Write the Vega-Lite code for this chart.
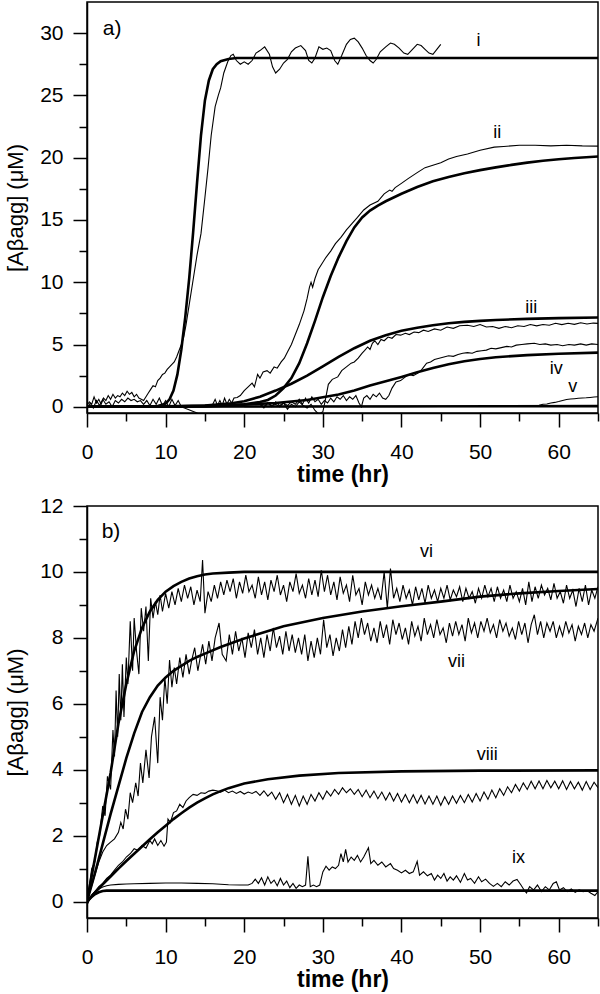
{
"$schema": "https://vega.github.io/schema/vega-lite/v6.json",
"padding": {"left": 3, "top": 1, "right": 3, "bottom": 0},
"spacing": 7,
"config": {
  "font": "Liberation Sans",
  "view": {"stroke": "black", "strokeWidth": 1.5},
  "axis": {"grid": false, "domainColor": "black", "domainWidth": 1.5, "tickColor": "black", "tickWidth": 1.5, "labelFontSize": 21, "labelColor": "black", "titleColor": "black", "labelFont": "Liberation Sans", "titleFont": "Liberation Sans", "labelOverlap": false, "labelFlush": false}
},
"datasets": {
  "a_i_fit": [{"t":0,"v":0},{"t":5,"v":0},{"t":8,"v":0.02},{"t":9,"v":0.06},{"t":10,"v":0.25},{"t":10.5,"v":0.6},{"t":11,"v":1.3},{"t":11.5,"v":2.6},{"t":12,"v":4.6},{"t":12.5,"v":7.2},{"t":13,"v":10.3},{"t":13.5,"v":14},{"t":14,"v":18},{"t":14.5,"v":21.8},{"t":15,"v":24.6},{"t":15.5,"v":26.2},{"t":16,"v":27.1},{"t":16.5,"v":27.5},{"t":17,"v":27.75},{"t":18,"v":27.92},{"t":19,"v":28},{"t":65,"v":28}],
  "a_i_data": [{"t":0,"v":0.1},{"t":0.3,"v":0.4},{"t":0.6,"v":0.2},{"t":0.9,"v":0.8},{"t":1.2,"v":0.3},{"t":1.5,"v":0.6},{"t":1.8,"v":0.2},{"t":2.1,"v":0.7},{"t":2.4,"v":0.5},{"t":2.7,"v":0.9},{"t":3,"v":0.6},{"t":3.3,"v":1},{"t":3.6,"v":0.7},{"t":3.9,"v":0.9},{"t":4.2,"v":0.8},{"t":4.5,"v":1.1},{"t":4.8,"v":0.9},{"t":5.1,"v":1.25},{"t":5.4,"v":1},{"t":5.7,"v":1.15},{"t":6,"v":0.8},{"t":6.3,"v":1},{"t":6.6,"v":0.7},{"t":6.9,"v":0.6},{"t":7.2,"v":0.5},{"t":7.5,"v":0.8},{"t":7.8,"v":1.1},{"t":8.1,"v":1.4},{"t":8.4,"v":1.7},{"t":8.7,"v":1.6},{"t":9,"v":2.1},{"t":9.3,"v":2.3},{"t":9.6,"v":2.6},{"t":9.9,"v":2.7},{"t":10.2,"v":3},{"t":10.5,"v":3.2},{"t":10.8,"v":3.4},{"t":11.1,"v":3.6},{"t":11.4,"v":4},{"t":11.7,"v":4.5},{"t":12,"v":5},{"t":12.3,"v":5.6},{"t":12.6,"v":6.6},{"t":13,"v":8.2},{"t":13.5,"v":10.2},{"t":14,"v":12.2},{"t":14.5,"v":13.9},{"t":15,"v":16.8},{"t":15.4,"v":19.2},{"t":15.8,"v":21.8},{"t":16.3,"v":24.1},{"t":16.7,"v":25},{"t":17,"v":25.6},{"t":17.4,"v":26.8},{"t":17.9,"v":27.7},{"t":18.3,"v":28.2},{"t":18.6,"v":28.3},{"t":19,"v":27.8},{"t":19.5,"v":27.5},{"t":20,"v":27.7},{"t":20.5,"v":27.5},{"t":21,"v":27.8},{"t":21.5,"v":28.4},{"t":22,"v":28.6},{"t":22.6,"v":28.9},{"t":23.2,"v":28.3},{"t":23.6,"v":27.3},{"t":24,"v":26.8},{"t":24.5,"v":27.1},{"t":25,"v":27.6},{"t":25.5,"v":27.9},{"t":26,"v":28.5},{"t":26.5,"v":28.8},{"t":27.2,"v":29},{"t":27.8,"v":28.6},{"t":28.2,"v":27.8},{"t":28.6,"v":27.6},{"t":29,"v":28},{"t":29.5,"v":28.9},{"t":30,"v":28.7},{"t":30.5,"v":28.8},{"t":31,"v":28.6},{"t":31.5,"v":27.8},{"t":31.9,"v":27.5},{"t":32.4,"v":28.2},{"t":33,"v":29.1},{"t":33.5,"v":29.5},{"t":34,"v":29.6},{"t":34.5,"v":29.3},{"t":35,"v":28.8},{"t":35.5,"v":28.2},{"t":36,"v":27.8},{"t":36.4,"v":27.6},{"t":36.8,"v":27.9},{"t":37.3,"v":28.5},{"t":38,"v":28.9},{"t":38.6,"v":29.2},{"t":39.1,"v":29.1},{"t":39.7,"v":28.8},{"t":40.3,"v":28.4},{"t":40.8,"v":28.3},{"t":41.4,"v":28.7},{"t":42,"v":29.1},{"t":42.5,"v":29},{"t":43,"v":28.7},{"t":43.5,"v":28.4},{"t":44,"v":28.3},{"t":44.5,"v":28.7},{"t":45,"v":29.1}],
  "a_base": [{"t":0,"v":-0.2},{"t":0.4,"v":0.3},{"t":0.8,"v":-0.1},{"t":1.2,"v":0.5},{"t":1.6,"v":0.1},{"t":2,"v":0.6},{"t":2.4,"v":0.2},{"t":2.8,"v":0.4},{"t":3.2,"v":0},{"t":3.6,"v":0.5},{"t":4,"v":0.3},{"t":4.4,"v":0.6},{"t":4.8,"v":0.4},{"t":5.2,"v":0.7},{"t":5.6,"v":0.5},{"t":6,"v":0.6},{"t":6.4,"v":0.4},{"t":6.8,"v":0.5},{"t":7.2,"v":0.2},{"t":7.6,"v":0.5},{"t":8,"v":0.1},{"t":8.4,"v":0.6},{"t":8.8,"v":0.2},{"t":9.2,"v":0.7},{"t":9.6,"v":0.1},{"t":10,"v":0.5},{"t":10.4,"v":0},{"t":10.8,"v":0.6},{"t":11.2,"v":0.1},{"t":11.6,"v":0.5},{"t":12,"v":0},{"t":12.4,"v":-0.1},{"t":12.8,"v":-0.2},{"t":13.2,"v":-0.3},{"t":13.6,"v":-0.4},{"t":14,"v":-0.5},{"t":14.4,"v":-0.7},{"t":15,"v":-1}],
  "a_ii_fit": [{"t":0,"v":0},{"t":10,"v":0.01},{"t":15,"v":0.03},{"t":18,"v":0.1},{"t":20,"v":0.2},{"t":22,"v":0.38},{"t":23,"v":0.55},{"t":24,"v":0.9},{"t":25,"v":1.5},{"t":26,"v":2.3},{"t":27,"v":3.5},{"t":28,"v":5.1},{"t":29,"v":6.9},{"t":30,"v":8.8},{"t":31,"v":10.5},{"t":32,"v":12},{"t":33,"v":13.3},{"t":34,"v":14.4},{"t":35,"v":15.2},{"t":36,"v":15.75},{"t":37,"v":16.15},{"t":38,"v":16.5},{"t":40,"v":17.1},{"t":42,"v":17.65},{"t":44,"v":18.1},{"t":46,"v":18.45},{"t":48,"v":18.75},{"t":50,"v":19},{"t":52,"v":19.22},{"t":54,"v":19.42},{"t":56,"v":19.6},{"t":58,"v":19.75},{"t":60,"v":19.87},{"t":62,"v":19.98},{"t":65,"v":20.1}],
  "a_ii_data": [{"t":16,"v":0.2},{"t":16.3,"v":0.6},{"t":16.6,"v":0.1},{"t":16.9,"v":0.5},{"t":17.2,"v":0.1},{"t":17.5,"v":0.7},{"t":17.8,"v":0.2},{"t":18.1,"v":0.6},{"t":18.4,"v":0.3},{"t":18.7,"v":0.7},{"t":19.1,"v":0.75},{"t":19.5,"v":0.9},{"t":20,"v":1.3},{"t":20.5,"v":1.6},{"t":21,"v":1.9},{"t":21.3,"v":1.6},{"t":21.7,"v":2.6},{"t":22,"v":2.3},{"t":22.4,"v":2.8},{"t":22.9,"v":2.9},{"t":23.3,"v":2.7},{"t":23.8,"v":3.2},{"t":24.2,"v":3.1},{"t":24.7,"v":3.6},{"t":25.1,"v":3.9},{"t":25.5,"v":4.4},{"t":26,"v":5},{"t":26.5,"v":5.8},{"t":27,"v":6.6},{"t":27.6,"v":7.7},{"t":28,"v":8.7},{"t":28.3,"v":9.6},{"t":28.5,"v":10},{"t":28.7,"v":9.6},{"t":29,"v":10.3},{"t":29.4,"v":11},{"t":29.8,"v":11.4},{"t":30.4,"v":12},{"t":31,"v":12.5},{"t":31.6,"v":13.1},{"t":32.3,"v":13.6},{"t":33,"v":14.2},{"t":33.7,"v":14.7},{"t":34.4,"v":15.2},{"t":35.2,"v":15.8},{"t":36,"v":16.2},{"t":37,"v":16.5},{"t":37.8,"v":17.1},{"t":38.5,"v":17.4},{"t":38.8,"v":17.3},{"t":39.2,"v":17.6},{"t":39.9,"v":17.9},{"t":40.8,"v":18.3},{"t":42,"v":18.8},{"t":43,"v":19.2},{"t":44,"v":19.4},{"t":45,"v":19.6},{"t":46,"v":19.9},{"t":47,"v":20.1},{"t":48.4,"v":20.3},{"t":50,"v":20.6},{"t":51.8,"v":20.85},{"t":53,"v":20.9},{"t":55,"v":21},{"t":57,"v":21},{"t":59,"v":20.95},{"t":61,"v":21},{"t":63,"v":20.95},{"t":65,"v":20.93}],
  "a_iii_fit": [{"t":0,"v":0},{"t":10,"v":0.03},{"t":15,"v":0.1},{"t":18,"v":0.25},{"t":20,"v":0.45},{"t":22,"v":0.8},{"t":24,"v":1.3},{"t":26,"v":1.85},{"t":28,"v":2.5},{"t":30,"v":3.25},{"t":32,"v":4},{"t":34,"v":4.7},{"t":36,"v":5.3},{"t":38,"v":5.75},{"t":40,"v":6.1},{"t":42,"v":6.35},{"t":44,"v":6.55},{"t":46,"v":6.7},{"t":48,"v":6.82},{"t":50,"v":6.9},{"t":52,"v":6.97},{"t":56,"v":7.06},{"t":60,"v":7.12},{"t":65,"v":7.17}],
  "a_iii_data": [{"t":22,"v":0.2},{"t":22.5,"v":-0.1},{"t":23,"v":0.3},{"t":23.5,"v":0},{"t":24,"v":0.4},{"t":24.5,"v":0.1},{"t":25,"v":0.3},{"t":25.5,"v":-0.2},{"t":26,"v":0.2},{"t":26.5,"v":0},{"t":27,"v":0.4},{"t":27.5,"v":0.1},{"t":28,"v":-0.1},{"t":28.5,"v":0.2},{"t":29,"v":-0.3},{"t":29.5,"v":-0.6},{"t":30,"v":-0.4},{"t":30.3,"v":0.5},{"t":30.7,"v":1.8},{"t":31.2,"v":2.2},{"t":31.9,"v":2.4},{"t":32.4,"v":2.9},{"t":33,"v":3.2},{"t":33.6,"v":3.5},{"t":34,"v":3.6},{"t":34.5,"v":3.9},{"t":35,"v":4.3},{"t":35.3,"v":4.5},{"t":35.7,"v":4.8},{"t":36,"v":4.6},{"t":36.3,"v":5.1},{"t":36.6,"v":5.3},{"t":37,"v":5},{"t":37.4,"v":5.4},{"t":37.8,"v":5.3},{"t":38.3,"v":5.6},{"t":38.8,"v":5.5},{"t":39.3,"v":5.8},{"t":39.9,"v":5.75},{"t":40.5,"v":5.9},{"t":41,"v":5.8},{"t":41.6,"v":6},{"t":42.2,"v":5.95},{"t":42.8,"v":6.15},{"t":43.4,"v":6.05},{"t":44.2,"v":6.25},{"t":45,"v":6.15},{"t":45.8,"v":6.4},{"t":46.6,"v":6.3},{"t":47.4,"v":6.5},{"t":48.4,"v":6.55},{"t":49.2,"v":6.45},{"t":50,"v":6.6},{"t":50.8,"v":6.4},{"t":51.6,"v":6.45},{"t":52.4,"v":6.3},{"t":53.2,"v":6.45},{"t":54,"v":6.35},{"t":54.8,"v":6.5},{"t":55.6,"v":6.45},{"t":56.4,"v":6.6},{"t":57.2,"v":6.5},{"t":58,"v":6.6},{"t":58.8,"v":6.55},{"t":59.6,"v":6.7},{"t":60.4,"v":6.6},{"t":61.2,"v":6.7},{"t":62,"v":6.62},{"t":62.8,"v":6.75},{"t":63.6,"v":6.65},{"t":64.4,"v":6.72},{"t":65,"v":6.7}],
  "a_iv_fit": [{"t":0,"v":0},{"t":10,"v":0.02},{"t":15,"v":0.07},{"t":20,"v":0.17},{"t":24,"v":0.3},{"t":28,"v":0.55},{"t":32,"v":0.98},{"t":34,"v":1.3},{"t":36,"v":1.7},{"t":38,"v":2.05},{"t":40,"v":2.4},{"t":42,"v":2.78},{"t":44,"v":3.12},{"t":46,"v":3.42},{"t":48,"v":3.66},{"t":50,"v":3.84},{"t":52,"v":3.98},{"t":56,"v":4.15},{"t":60,"v":4.26},{"t":65,"v":4.35}],
  "a_iv_data": [{"t":22,"v":0.2},{"t":22.5,"v":0},{"t":23,"v":0.3},{"t":23.5,"v":0.1},{"t":24,"v":0.2},{"t":24.5,"v":0},{"t":25,"v":0.3},{"t":25.5,"v":0.1},{"t":26,"v":0.4},{"t":26.5,"v":0.2},{"t":27,"v":0.6},{"t":27.4,"v":0.2},{"t":27.8,"v":0.7},{"t":28.2,"v":0.3},{"t":28.6,"v":0.8},{"t":29,"v":0.4},{"t":29.4,"v":0.6},{"t":29.8,"v":0.2},{"t":30.2,"v":0.5},{"t":30.6,"v":0.3},{"t":31,"v":0.7},{"t":31.4,"v":0.4},{"t":31.8,"v":0.8},{"t":32.2,"v":0.6},{"t":32.6,"v":0.9},{"t":33,"v":0.5},{"t":33.4,"v":0.8},{"t":33.8,"v":0.6},{"t":34.2,"v":0.9},{"t":34.6,"v":0.3},{"t":34.9,"v":0},{"t":35.2,"v":0.7},{"t":35.6,"v":0.9},{"t":36,"v":0.6},{"t":36.4,"v":1},{"t":36.8,"v":0.8},{"t":37.2,"v":1.1},{"t":37.6,"v":0.7},{"t":38,"v":0.6},{"t":38.4,"v":0.9},{"t":38.8,"v":1.5},{"t":39.3,"v":2},{"t":39.9,"v":2.1},{"t":40.5,"v":2.4},{"t":41,"v":2.6},{"t":41.5,"v":2.5},{"t":42.1,"v":2.7},{"t":42.6,"v":3},{"t":43.2,"v":3.5},{"t":43.7,"v":3.6},{"t":44.2,"v":3.8},{"t":44.8,"v":3.9},{"t":45.4,"v":4},{"t":46,"v":4.1},{"t":46.6,"v":4.05},{"t":47.2,"v":4.2},{"t":47.8,"v":4.3},{"t":48.4,"v":4.35},{"t":49,"v":4.3},{"t":49.6,"v":4.45},{"t":50.2,"v":4.5},{"t":50.8,"v":4.55},{"t":51.4,"v":4.7},{"t":52,"v":4.65},{"t":52.7,"v":4.75},{"t":53.4,"v":4.85},{"t":54,"v":4.8},{"t":54.6,"v":4.95},{"t":55.3,"v":5},{"t":56,"v":5.05},{"t":56.9,"v":5.1},{"t":57.6,"v":5},{"t":58.3,"v":5.05},{"t":59,"v":4.95},{"t":59.8,"v":5},{"t":60.5,"v":4.9},{"t":61.3,"v":5},{"t":62,"v":4.95},{"t":62.8,"v":5.05},{"t":63.5,"v":4.95},{"t":64.2,"v":5.05},{"t":65,"v":5}],
  "a_v_fit": [{"t":0,"v":0},{"t":65,"v":0.05}],
  "a_v_data": [{"t":20,"v":0},{"t":30,"v":0},{"t":40,"v":0},{"t":45,"v":0.02},{"t":50,"v":0.03},{"t":55,"v":0.05},{"t":56.9,"v":0.08},{"t":57.5,"v":0.12},{"t":58,"v":0.2},{"t":58.5,"v":0.22},{"t":59,"v":0.3},{"t":59.5,"v":0.35},{"t":60,"v":0.42},{"t":60.5,"v":0.5},{"t":61,"v":0.58},{"t":61.5,"v":0.62},{"t":62,"v":0.65},{"t":62.5,"v":0.68},{"t":63,"v":0.7},{"t":63.5,"v":0.72},{"t":64,"v":0.75},{"t":64.5,"v":0.78},{"t":65,"v":0.8}],
  "a_labels": [{"t":49.8,"v":29.35,"txt":"i"},{"t":52.2,"v":22,"txt":"ii"},{"t":56.5,"v":7.95,"txt":"iii"},{"t":59.7,"v":3,"txt":"iv"},{"t":61.8,"v":1.55,"txt":"v"}],
  "a_tag": [{"t":3.2,"v":30.3,"txt":"a)"}],
  "b_vi_fit": [{"t":0,"v":0},{"t":1,"v":1.3},{"t":2,"v":2.6},{"t":3,"v":3.9},{"t":4,"v":5.4},{"t":5,"v":6.6},{"t":6,"v":7.6},{"t":7,"v":8.3},{"t":8,"v":8.8},{"t":9,"v":9.15},{"t":10,"v":9.4},{"t":11,"v":9.57},{"t":12,"v":9.7},{"t":13,"v":9.8},{"t":14,"v":9.87},{"t":15,"v":9.92},{"t":16,"v":9.95},{"t":18,"v":9.98},{"t":20,"v":10},{"t":65,"v":10}],
  "b_vii_fit": [{"t":0,"v":0},{"t":1,"v":0.85},{"t":2,"v":1.75},{"t":3,"v":2.65},{"t":4,"v":3.5},{"t":5,"v":4.35},{"t":6,"v":5.1},{"t":7,"v":5.75},{"t":8,"v":6.2},{"t":9,"v":6.55},{"t":10,"v":6.8},{"t":11,"v":7},{"t":12,"v":7.15},{"t":13,"v":7.3},{"t":14,"v":7.42},{"t":15,"v":7.52},{"t":17,"v":7.72},{"t":20,"v":7.98},{"t":25,"v":8.35},{"t":30,"v":8.6},{"t":35,"v":8.8},{"t":40,"v":8.96},{"t":45,"v":9.1},{"t":50,"v":9.25},{"t":55,"v":9.35},{"t":60,"v":9.42},{"t":65,"v":9.48}],
  "b_viii_fit": [{"t":0,"v":0},{"t":1,"v":0.27},{"t":2,"v":0.52},{"t":3,"v":0.76},{"t":4,"v":1},{"t":5,"v":1.23},{"t":6,"v":1.45},{"t":7,"v":1.67},{"t":8,"v":1.89},{"t":9,"v":2.1},{"t":10,"v":2.3},{"t":11,"v":2.5},{"t":12,"v":2.68},{"t":13,"v":2.85},{"t":14,"v":3},{"t":15,"v":3.13},{"t":16,"v":3.25},{"t":17,"v":3.35},{"t":18,"v":3.44},{"t":20,"v":3.58},{"t":23,"v":3.71},{"t":27,"v":3.82},{"t":32,"v":3.9},{"t":40,"v":3.95},{"t":50,"v":3.97},{"t":65,"v":3.98}],
  "b_ix_fit": [{"t":0,"v":0},{"t":0.5,"v":0.12},{"t":1,"v":0.22},{"t":1.5,"v":0.28},{"t":2,"v":0.32},{"t":2.5,"v":0.33},{"t":65,"v":0.33}],
  "b_vi_data": [{"t":0,"v":0},{"t":0.3,"v":0.5},{"t":0.6,"v":1},{"t":1,"v":1.2},{"t":1.3,"v":1.8},{"t":1.6,"v":2},{"t":2,"v":2.9},{"t":2.3,"v":2.6},{"t":2.6,"v":3.8},{"t":3,"v":3.4},{"t":3.3,"v":5.2},{"t":3.5,"v":4.4},{"t":3.7,"v":6.4},{"t":3.9,"v":5},{"t":4.1,"v":6.9},{"t":4.3,"v":5.5},{"t":4.5,"v":7.2},{"t":4.7,"v":5.6},{"t":5,"v":7.4},{"t":5.2,"v":6.6},{"t":5.5,"v":8.5},{"t":5.8,"v":7},{"t":6,"v":8.6},{"t":6.3,"v":7.6},{"t":6.6,"v":6.9},{"t":6.9,"v":8.9},{"t":7.2,"v":8.2},{"t":7.5,"v":8.95},{"t":7.8,"v":7.3},{"t":8.1,"v":9.2},{"t":8.4,"v":8.6},{"t":8.7,"v":9.1},{"t":9,"v":8.7},{"t":9.3,"v":9.3},{"t":9.6,"v":8.8},{"t":10,"v":9.35},{"t":10.4,"v":8.9},{"t":10.8,"v":9.4},{"t":11.2,"v":9},{"t":11.6,"v":9.5},{"t":12,"v":9.1},{"t":12.4,"v":9.6},{"t":12.8,"v":9.2},{"t":13.2,"v":9.55},{"t":13.6,"v":9},{"t":14,"v":9.45},{"t":14.4,"v":9.1},{"t":14.7,"v":10.36},{"t":15,"v":8.75},{"t":15.4,"v":9.4},{"t":15.8,"v":9.1},{"t":16.2,"v":9.6},{"t":16.6,"v":9.2},{"t":17,"v":9.7},{"t":17.4,"v":9.3},{"t":17.8,"v":9.75},{"t":18.2,"v":9.4},{"t":18.6,"v":9.8},{"t":19,"v":9.2},{"t":19.4,"v":9.7},{"t":19.8,"v":9.35},{"t":20.2,"v":9.9},{"t":20.6,"v":9.4},{"t":21,"v":9.6},{"t":21.4,"v":9.2},{"t":21.8,"v":9.85},{"t":22.2,"v":9.3},{"t":22.6,"v":9.7},{"t":23,"v":9.15},{"t":23.4,"v":9.75},{"t":23.8,"v":9.4},{"t":24.2,"v":9.9},{"t":24.6,"v":9.3},{"t":25,"v":9.6},{"t":25.4,"v":9.1},{"t":25.8,"v":9.7},{"t":26.2,"v":9.4},{"t":26.6,"v":9.95},{"t":27,"v":9.35},{"t":27.4,"v":9.6},{"t":27.8,"v":9.2},{"t":28.2,"v":9.8},{"t":28.6,"v":9.3},{"t":29,"v":9.75},{"t":29.4,"v":9.25},{"t":29.8,"v":10.05},{"t":30.2,"v":9.4},{"t":30.6,"v":9.9},{"t":31,"v":9.3},{"t":31.4,"v":9.7},{"t":31.8,"v":9.15},{"t":32.2,"v":9.85},{"t":32.6,"v":9.35},{"t":33,"v":9.6},{"t":33.4,"v":9.1},{"t":33.8,"v":9.9},{"t":34.2,"v":9.3},{"t":34.6,"v":9.5},{"t":35,"v":9},{"t":35.4,"v":9.7},{"t":35.8,"v":9.3},{"t":36.2,"v":9.6},{"t":36.6,"v":9.2},{"t":37,"v":9.5},{"t":37.4,"v":9.15},{"t":37.8,"v":10},{"t":38.2,"v":8.9},{"t":38.6,"v":10.1},{"t":39,"v":9.2},{"t":39.4,"v":9.5},{"t":39.8,"v":9.1},{"t":40.2,"v":9.6},{"t":40.6,"v":9.2},{"t":41,"v":9.45},{"t":41.4,"v":9},{"t":41.8,"v":9.55},{"t":42.2,"v":9.15},{"t":42.6,"v":9.5},{"t":43,"v":9.05},{"t":43.4,"v":9.6},{"t":43.8,"v":9.2},{"t":44.2,"v":9.45},{"t":44.6,"v":9.1},{"t":45,"v":9.5},{"t":45.4,"v":9.2},{"t":45.8,"v":9.6},{"t":46.2,"v":9.15},{"t":46.6,"v":9.45},{"t":47,"v":9.25},{"t":47.4,"v":9.55},{"t":47.8,"v":9.1},{"t":48.2,"v":9.5},{"t":48.6,"v":9.2},{"t":49,"v":9.4},{"t":49.4,"v":9.05},{"t":49.8,"v":9.5},{"t":50.2,"v":9.2},{"t":50.6,"v":9.6},{"t":51,"v":9.25},{"t":51.4,"v":9.5},{"t":51.8,"v":9.1},{"t":52.2,"v":9.55},{"t":52.6,"v":9.2},{"t":53,"v":9.45},{"t":53.4,"v":9.1},{"t":53.8,"v":9.6},{"t":54.2,"v":9.2},{"t":54.6,"v":9.4},{"t":55,"v":9.1},{"t":55.4,"v":9.5},{"t":55.8,"v":9},{"t":56.2,"v":9.7},{"t":56.6,"v":9.1},{"t":57,"v":9.55},{"t":57.4,"v":9.2},{"t":57.8,"v":9.6},{"t":58.2,"v":9.3},{"t":58.6,"v":9.5},{"t":59,"v":9.15},{"t":59.4,"v":9.65},{"t":59.8,"v":9.2},{"t":60.2,"v":9.4},{"t":60.6,"v":9.05},{"t":61,"v":9.6},{"t":61.4,"v":9.2},{"t":61.8,"v":9.45},{"t":62.2,"v":8.95},{"t":62.6,"v":9.5},{"t":63,"v":9.1},{"t":63.4,"v":9.6},{"t":63.8,"v":9},{"t":64.2,"v":9.45},{"t":64.6,"v":9.2},{"t":65,"v":9.55}],
  "b_vii_data": [{"t":0,"v":0},{"t":0.5,"v":0.4},{"t":1,"v":0.8},{"t":1.5,"v":1.2},{"t":2,"v":1.5},{"t":2.5,"v":1.7},{"t":3,"v":1.8},{"t":3.5,"v":1.9},{"t":4,"v":2.1},{"t":4.3,"v":2.4},{"t":4.6,"v":2.2},{"t":4.9,"v":2.8},{"t":5.2,"v":2.5},{"t":5.5,"v":3.3},{"t":5.8,"v":3},{"t":6.2,"v":3.6},{"t":6.5,"v":3.2},{"t":6.8,"v":4.2},{"t":7.1,"v":3.6},{"t":7.5,"v":4.6},{"t":7.9,"v":3.75},{"t":8.2,"v":5},{"t":8.6,"v":5.6},{"t":9,"v":4.2},{"t":9.3,"v":6.2},{"t":9.6,"v":5.5},{"t":9.9,"v":6.8},{"t":10.2,"v":6},{"t":10.5,"v":7.33},{"t":10.8,"v":6.5},{"t":11.1,"v":7.1},{"t":11.4,"v":6.6},{"t":11.8,"v":7.4},{"t":12.2,"v":6.8},{"t":12.6,"v":7.5},{"t":13,"v":6.9},{"t":13.3,"v":7.3},{"t":13.7,"v":7.7},{"t":14.1,"v":7},{"t":14.7,"v":7.8},{"t":15.1,"v":7.2},{"t":15.5,"v":7.9},{"t":15.9,"v":7.3},{"t":16.3,"v":8},{"t":16.8,"v":8.45},{"t":17.2,"v":7.5},{"t":17.7,"v":7.3},{"t":18.1,"v":8.1},{"t":18.5,"v":7.5},{"t":18.9,"v":8.2},{"t":19.3,"v":7.6},{"t":19.7,"v":8},{"t":20.1,"v":7.4},{"t":20.5,"v":8.15},{"t":20.9,"v":7.7},{"t":21.3,"v":8.25},{"t":21.7,"v":7.5},{"t":22.1,"v":8},{"t":22.5,"v":7.4},{"t":22.9,"v":8.1},{"t":23.3,"v":7.6},{"t":23.7,"v":8.3},{"t":24.1,"v":7.7},{"t":24.5,"v":8.05},{"t":24.9,"v":7.5},{"t":25.3,"v":8.2},{"t":25.7,"v":7.6},{"t":26.1,"v":8.1},{"t":26.5,"v":7.55},{"t":26.9,"v":8},{"t":27.3,"v":7.5},{"t":27.7,"v":8.1},{"t":28.1,"v":7.3},{"t":28.5,"v":7.9},{"t":28.9,"v":7.4},{"t":29.3,"v":8},{"t":29.7,"v":7.5},{"t":30.1,"v":8.55},{"t":30.5,"v":7.7},{"t":30.9,"v":8.1},{"t":31.3,"v":7.45},{"t":31.7,"v":8},{"t":32.1,"v":7.6},{"t":32.5,"v":8.25},{"t":32.9,"v":7.7},{"t":33.3,"v":8.35},{"t":33.7,"v":7.8},{"t":34.1,"v":8.5},{"t":34.5,"v":8},{"t":34.9,"v":8.6},{"t":35.3,"v":8.1},{"t":35.7,"v":8.45},{"t":36.1,"v":7.9},{"t":36.5,"v":8.3},{"t":36.9,"v":7.85},{"t":37.3,"v":8.5},{"t":37.7,"v":8},{"t":38.1,"v":8.4},{"t":38.5,"v":7.8},{"t":38.9,"v":8.55},{"t":39.3,"v":8.1},{"t":39.7,"v":8.45},{"t":40.1,"v":7.95},{"t":40.5,"v":8.3},{"t":40.9,"v":7.8},{"t":41.3,"v":8.5},{"t":41.7,"v":8.05},{"t":42.1,"v":8.35},{"t":42.5,"v":7.9},{"t":42.9,"v":8.6},{"t":43.3,"v":8.1},{"t":43.7,"v":8.4},{"t":44.1,"v":8},{"t":44.5,"v":8.55},{"t":44.9,"v":8.1},{"t":45.3,"v":8.3},{"t":45.7,"v":7.85},{"t":46.1,"v":8.45},{"t":46.5,"v":8.05},{"t":46.9,"v":8.5},{"t":47.3,"v":8.1},{"t":47.7,"v":8.4},{"t":48.1,"v":7.9},{"t":48.5,"v":8.6},{"t":48.9,"v":8.15},{"t":49.3,"v":8.45},{"t":49.7,"v":8},{"t":50.1,"v":8.5},{"t":50.5,"v":8.2},{"t":50.9,"v":8.6},{"t":51.3,"v":8.15},{"t":51.7,"v":8.4},{"t":52.1,"v":8},{"t":52.5,"v":8.55},{"t":52.9,"v":8.2},{"t":53.3,"v":8.45},{"t":53.7,"v":8.05},{"t":54.1,"v":8.3},{"t":54.5,"v":7.95},{"t":54.9,"v":8.5},{"t":55.3,"v":8.1},{"t":55.7,"v":8.45},{"t":56.1,"v":7.85},{"t":56.5,"v":8.4},{"t":56.9,"v":8.7},{"t":57.3,"v":8.1},{"t":57.7,"v":8.5},{"t":58.1,"v":8},{"t":58.5,"v":8.45},{"t":58.9,"v":8.2},{"t":59.3,"v":8.5},{"t":59.7,"v":8},{"t":60.1,"v":8.35},{"t":60.5,"v":8.05},{"t":60.9,"v":8.5},{"t":61.3,"v":8.15},{"t":61.7,"v":8.4},{"t":62.1,"v":7.9},{"t":62.5,"v":8.35},{"t":62.9,"v":8.1},{"t":63.3,"v":8.45},{"t":63.7,"v":8},{"t":64.1,"v":8.4},{"t":64.5,"v":8.2},{"t":65,"v":8.6}],
  "b_viii_data": [{"t":0,"v":-0.1},{"t":0.5,"v":0.15},{"t":1,"v":0.3},{"t":1.5,"v":0.45},{"t":2,"v":0.55},{"t":2.5,"v":0.7},{"t":3,"v":0.8},{"t":3.5,"v":0.95},{"t":4,"v":1.1},{"t":4.5,"v":1.2},{"t":5,"v":1.35},{"t":5.5,"v":1.45},{"t":6,"v":1.6},{"t":6.5,"v":1.55},{"t":7,"v":1.7},{"t":7.5,"v":1.62},{"t":8,"v":1.85},{"t":8.3,"v":1.75},{"t":8.6,"v":1.9},{"t":9,"v":1.7},{"t":9.4,"v":1.85},{"t":9.8,"v":1.68},{"t":10.1,"v":1.8},{"t":10.3,"v":2.5},{"t":10.6,"v":2.4},{"t":11,"v":2.7},{"t":11.4,"v":2.75},{"t":11.8,"v":2.95},{"t":12.2,"v":2.85},{"t":12.6,"v":3.05},{"t":13,"v":3.15},{"t":13.5,"v":3.25},{"t":14,"v":3.22},{"t":14.5,"v":3.3},{"t":15,"v":3.28},{"t":15.5,"v":3.35},{"t":16,"v":3.38},{"t":16.5,"v":3.36},{"t":17,"v":3.32},{"t":17.5,"v":3.38},{"t":18,"v":3.3},{"t":18.5,"v":3.35},{"t":19,"v":3.28},{"t":19.5,"v":3.34},{"t":20,"v":3.26},{"t":20.5,"v":3.32},{"t":21,"v":3.28},{"t":21.5,"v":3.34},{"t":22,"v":3.22},{"t":22.5,"v":3.36},{"t":23,"v":3.2},{"t":23.5,"v":3.32},{"t":24,"v":3.1},{"t":24.5,"v":3.3},{"t":25,"v":3},{"t":25.5,"v":3.25},{"t":26,"v":2.95},{"t":26.5,"v":3.22},{"t":27,"v":2.9},{"t":27.5,"v":3.2},{"t":28,"v":2.95},{"t":28.5,"v":3.25},{"t":29,"v":3.05},{"t":29.5,"v":3.3},{"t":30,"v":3.1},{"t":30.5,"v":3.35},{"t":31,"v":3.2},{"t":31.5,"v":3.4},{"t":32,"v":3.25},{"t":32.5,"v":3.45},{"t":33,"v":3.3},{"t":33.5,"v":3.42},{"t":34,"v":3.25},{"t":34.5,"v":3.4},{"t":35,"v":3.18},{"t":35.5,"v":3.38},{"t":36,"v":3.15},{"t":36.5,"v":3.35},{"t":37,"v":3.12},{"t":37.5,"v":3.32},{"t":38,"v":3.08},{"t":38.5,"v":3.3},{"t":39,"v":3.05},{"t":39.5,"v":3.28},{"t":40,"v":3.02},{"t":40.5,"v":3.25},{"t":41,"v":3},{"t":41.5,"v":3.24},{"t":42,"v":2.98},{"t":42.5,"v":3.22},{"t":43,"v":2.96},{"t":43.5,"v":3.2},{"t":44,"v":2.95},{"t":44.5,"v":3.2},{"t":45,"v":2.92},{"t":45.5,"v":3.18},{"t":46,"v":2.95},{"t":46.5,"v":3.2},{"t":47,"v":2.98},{"t":47.5,"v":3.22},{"t":48,"v":3},{"t":48.5,"v":3.25},{"t":49,"v":3.02},{"t":49.5,"v":3.28},{"t":50,"v":3.05},{"t":50.5,"v":3.32},{"t":51,"v":3.1},{"t":51.5,"v":3.38},{"t":52,"v":3.15},{"t":52.5,"v":3.42},{"t":53,"v":3.22},{"t":53.5,"v":3.48},{"t":54,"v":3.3},{"t":54.5,"v":3.55},{"t":55,"v":3.35},{"t":55.5,"v":3.6},{"t":56,"v":3.4},{"t":56.5,"v":3.65},{"t":57,"v":3.42},{"t":57.5,"v":3.66},{"t":58,"v":3.42},{"t":58.5,"v":3.67},{"t":59,"v":3.45},{"t":59.5,"v":3.65},{"t":60,"v":3.42},{"t":60.5,"v":3.66},{"t":61,"v":3.4},{"t":61.5,"v":3.64},{"t":62,"v":3.42},{"t":62.5,"v":3.62},{"t":63,"v":3.38},{"t":63.5,"v":3.64},{"t":64,"v":3.4},{"t":64.5,"v":3.62},{"t":65,"v":3.45}],
  "b_ix_data": [{"t":0,"v":-0.1},{"t":0.3,"v":0.05},{"t":0.6,"v":0.2},{"t":1,"v":0.3},{"t":1.5,"v":0.38},{"t":2,"v":0.44},{"t":2.5,"v":0.48},{"t":3,"v":0.5},{"t":4,"v":0.52},{"t":5,"v":0.53},{"t":6,"v":0.54},{"t":8,"v":0.55},{"t":10,"v":0.56},{"t":12,"v":0.56},{"t":14,"v":0.55},{"t":16,"v":0.54},{"t":18,"v":0.51},{"t":19.5,"v":0.5},{"t":20.5,"v":0.5},{"t":21,"v":0.55},{"t":21.4,"v":0.68},{"t":21.8,"v":0.55},{"t":22.2,"v":0.72},{"t":22.6,"v":0.5},{"t":23,"v":0.75},{"t":23.4,"v":0.55},{"t":23.8,"v":0.65},{"t":24.2,"v":0.48},{"t":24.6,"v":0.7},{"t":25,"v":0.5},{"t":25.4,"v":0.62},{"t":25.8,"v":0.42},{"t":26.2,"v":0.55},{"t":26.6,"v":0.4},{"t":27,"v":0.5},{"t":27.4,"v":0.45},{"t":27.8,"v":0.5},{"t":28.1,"v":1.37},{"t":28.4,"v":0.45},{"t":28.8,"v":0.5},{"t":29.2,"v":0.45},{"t":29.6,"v":0.5},{"t":30,"v":0.9},{"t":30.4,"v":1.07},{"t":30.8,"v":0.95},{"t":31.2,"v":1.05},{"t":31.6,"v":1},{"t":32,"v":1.1},{"t":32.3,"v":1.45},{"t":32.6,"v":1.2},{"t":32.9,"v":1.58},{"t":33.2,"v":1.2},{"t":33.6,"v":1.35},{"t":34,"v":1.25},{"t":34.4,"v":1.4},{"t":34.8,"v":1.2},{"t":35.2,"v":1.35},{"t":35.8,"v":1.63},{"t":36.1,"v":1.15},{"t":36.5,"v":1.25},{"t":37,"v":1.1},{"t":37.5,"v":1.2},{"t":38,"v":1.05},{"t":38.6,"v":1.15},{"t":39,"v":1},{"t":39.5,"v":0.95},{"t":40,"v":0.87},{"t":40.5,"v":0.95},{"t":41,"v":0.85},{"t":41.5,"v":0.9},{"t":42,"v":1.22},{"t":42.3,"v":0.8},{"t":42.8,"v":0.9},{"t":43.3,"v":0.78},{"t":43.8,"v":0.85},{"t":44.2,"v":0.65},{"t":44.6,"v":0.8},{"t":45,"v":0.7},{"t":45.4,"v":0.85},{"t":45.8,"v":0.62},{"t":46.2,"v":0.75},{"t":46.6,"v":0.65},{"t":47,"v":0.78},{"t":47.5,"v":0.58},{"t":48,"v":0.85},{"t":48.4,"v":0.65},{"t":48.8,"v":0.7},{"t":49.3,"v":0.55},{"t":49.8,"v":0.75},{"t":50.2,"v":0.6},{"t":50.7,"v":0.68},{"t":51.2,"v":0.55},{"t":51.7,"v":0.46},{"t":52.2,"v":0.55},{"t":52.7,"v":0.45},{"t":53.2,"v":0.6},{"t":53.7,"v":0.5},{"t":54.2,"v":0.62},{"t":54.7,"v":0.67},{"t":55.2,"v":0.5},{"t":55.6,"v":0.35},{"t":55.9,"v":0.26},{"t":56.3,"v":0.45},{"t":56.8,"v":0.35},{"t":57.3,"v":0.5},{"t":57.8,"v":0.3},{"t":58.3,"v":0.45},{"t":58.8,"v":0.35},{"t":59.3,"v":0.55},{"t":59.7,"v":0.6},{"t":60.1,"v":0.35},{"t":60.6,"v":0.42},{"t":61.1,"v":0.3},{"t":61.6,"v":0.38},{"t":62.1,"v":0.28},{"t":62.6,"v":0.35},{"t":63.1,"v":0.3},{"t":63.6,"v":0.33},{"t":64.1,"v":0.25},{"t":64.6,"v":0.18},{"t":65,"v":0.3}],
  "b_labels": [{"t":43.2,"v":10.6,"txt":"vi"},{"t":47,"v":7.28,"txt":"vii"},{"t":50.9,"v":4.45,"txt":"viii"},{"t":54.9,"v":1.32,"txt":"ix"}],
  "b_tag": [{"t":3.05,"v":11.2,"txt":"b)"}]
},
"vconcat": [
  {
    "width": 511, "height": 411,
    "encoding": {
      "x": {"field": "t", "type": "quantitative", "scale": {"domain": [0, 65], "nice": false, "zero": false},
        "axis": {"values": [0,5,10,15,20,25,30,35,40,45,50,55,60,65], "format": "d", "labelExpr": "datum.value % 10 === 0 ? datum.label : ''", "tickSize": {"condition": {"test": "datum.value % 10 === 0", "value": 14}, "value": 8}, "labelPadding": 14, "title": "time (hr)", "titleFontSize": 23, "titleFontWeight": "bold", "titlePadding": 1}},
      "y": {"field": "v", "type": "quantitative", "scale": {"domain": [-0.5, 32.5], "nice": false, "zero": false},
        "axis": {"values": [0,2.5,5,7.5,10,12.5,15,17.5,20,22.5,25,27.5,30], "format": "d", "labelExpr": "datum.value % 5 === 0 ? datum.label : ''", "tickSize": {"condition": {"test": "datum.value % 5 === 0", "value": 14}, "value": 8}, "labelPadding": 10, "title": "[Aβagg] (μM)", "titleFontSize": 22, "titleFontWeight": "normal", "titlePadding": 12}}
    },
    "layer": [
      {"data": {"name": "a_base"}, "mark": {"type": "line", "color": "black", "strokeWidth": 1.1, "clip": true}, "encoding": {}},
      {"data": {"name": "a_i_data"}, "mark": {"type": "line", "color": "black", "strokeWidth": 1.1, "clip": true}, "encoding": {}},
      {"data": {"name": "a_ii_data"}, "mark": {"type": "line", "color": "black", "strokeWidth": 1.1, "clip": true}, "encoding": {}},
      {"data": {"name": "a_iii_data"}, "mark": {"type": "line", "color": "black", "strokeWidth": 1.1, "clip": true}, "encoding": {}},
      {"data": {"name": "a_iv_data"}, "mark": {"type": "line", "color": "black", "strokeWidth": 1.1, "clip": true}, "encoding": {}},
      {"data": {"name": "a_v_data"}, "mark": {"type": "line", "color": "black", "strokeWidth": 1.1, "clip": true}, "encoding": {}},
      {"data": {"name": "a_i_fit"}, "mark": {"type": "line", "color": "black", "strokeWidth": 2.6, "clip": true}, "encoding": {}},
      {"data": {"name": "a_ii_fit"}, "mark": {"type": "line", "color": "black", "strokeWidth": 2.6, "clip": true}, "encoding": {}},
      {"data": {"name": "a_iii_fit"}, "mark": {"type": "line", "color": "black", "strokeWidth": 2.6, "clip": true}, "encoding": {}},
      {"data": {"name": "a_iv_fit"}, "mark": {"type": "line", "color": "black", "strokeWidth": 2.6, "clip": true}, "encoding": {}},
      {"data": {"name": "a_v_fit"}, "mark": {"type": "line", "color": "black", "strokeWidth": 2.6, "clip": true}, "encoding": {}},
      {"data": {"name": "a_labels"}, "mark": {"type": "text", "fontSize": 18, "color": "black", "align": "center", "baseline": "middle"}, "encoding": {"text": {"field": "txt"}}},
      {"data": {"name": "a_tag"}, "mark": {"type": "text", "fontSize": 21, "color": "black", "align": "center", "baseline": "middle"}, "encoding": {"text": {"field": "txt"}}}
    ]
  },
  {
    "width": 511, "height": 412,
    "encoding": {
      "x": {"field": "t", "type": "quantitative", "scale": {"domain": [0, 65], "nice": false, "zero": false},
        "axis": {"values": [0,5,10,15,20,25,30,35,40,45,50,55,60,65], "format": "d", "labelExpr": "datum.value % 10 === 0 ? datum.label : ''", "tickSize": {"condition": {"test": "datum.value % 10 === 0", "value": 14}, "value": 8}, "labelPadding": 14, "title": "time (hr)", "titleFontSize": 23, "titleFontWeight": "bold", "titlePadding": 1}},
      "y": {"field": "v", "type": "quantitative", "scale": {"domain": [-0.5, 12], "nice": false, "zero": false},
        "axis": {"values": [0,1,2,3,4,5,6,7,8,9,10,11,12], "format": "d", "labelExpr": "datum.value % 2 === 0 ? datum.label : ''", "tickSize": {"condition": {"test": "datum.value % 2 === 0", "value": 14}, "value": 8}, "labelPadding": 10, "title": "[Aβagg] (μM)", "titleFontSize": 22, "titleFontWeight": "normal", "titlePadding": 12}}
    },
    "layer": [
      {"data": {"name": "b_vi_data"}, "mark": {"type": "line", "color": "black", "strokeWidth": 1.1, "clip": true}, "encoding": {}},
      {"data": {"name": "b_vii_data"}, "mark": {"type": "line", "color": "black", "strokeWidth": 1.1, "clip": true}, "encoding": {}},
      {"data": {"name": "b_viii_data"}, "mark": {"type": "line", "color": "black", "strokeWidth": 1.1, "clip": true}, "encoding": {}},
      {"data": {"name": "b_ix_data"}, "mark": {"type": "line", "color": "black", "strokeWidth": 1.1, "clip": true}, "encoding": {}},
      {"data": {"name": "b_vi_fit"}, "mark": {"type": "line", "color": "black", "strokeWidth": 2.6, "clip": true}, "encoding": {}},
      {"data": {"name": "b_vii_fit"}, "mark": {"type": "line", "color": "black", "strokeWidth": 2.6, "clip": true}, "encoding": {}},
      {"data": {"name": "b_viii_fit"}, "mark": {"type": "line", "color": "black", "strokeWidth": 2.6, "clip": true}, "encoding": {}},
      {"data": {"name": "b_ix_fit"}, "mark": {"type": "line", "color": "black", "strokeWidth": 2.6, "clip": true}, "encoding": {}},
      {"data": {"name": "b_labels"}, "mark": {"type": "text", "fontSize": 18, "color": "black", "align": "center", "baseline": "middle"}, "encoding": {"text": {"field": "txt"}}},
      {"data": {"name": "b_tag"}, "mark": {"type": "text", "fontSize": 21, "color": "black", "align": "center", "baseline": "middle"}, "encoding": {"text": {"field": "txt"}}}
    ]
  }
]
}
